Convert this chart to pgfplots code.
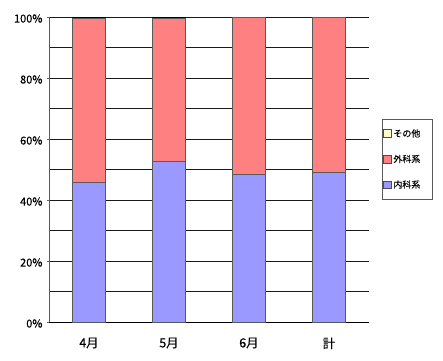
\documentclass[border=0pt]{standalone}
\usepackage{fontspec}
\setmainfont{Noto Sans CJK JP}
\newfontfamily\boldish[FakeBold=0.5]{Noto Sans CJK JP}
\newfontfamily\semibold[FakeBold=0.25]{Noto Sans CJK JP}
\usepackage{pgfplots}
\pgfplotsset{compat=1.18}
\definecolor{naika}{HTML}{9999FF}
\definecolor{geka}{HTML}{FF8080}
\definecolor{sonota}{HTML}{FFFFCC}
\begin{document}
\begin{tikzpicture}[x=1pt,y=1pt]
\path[use as bounding box] (-49,-38) rectangle (394,322);
\begin{axis}[
  at={(0,0)}, anchor=south west,
  scale only axis, width=320pt, height=305pt,
  ybar stacked, bar width=33pt,
  xmin=-0.5, xmax=3.5, ymin=0, ymax=100,
  axis x line*=bottom, axis y line*=left,
  x axis line style={draw=black, line width=1pt, -},
  y axis line style={draw=black!65, line width=1pt, -},
  xtick={0,1,2,3}, xticklabels={4月,5月,6月,計},
  xtick style={draw=none},
  extra x ticks={0.5,1.5,2.5}, extra x tick labels={},
  extra x tick style={tick style={draw=black!60, line width=0.6pt}, major tick length=2pt, tick align=outside},
  ytick={0,20,40,60,80,100},
  minor ytick={10,30,50,70,90},
  ymajorgrids, yminorgrids,
  major grid style={draw=black!90, line width=1pt},
  minor grid style={draw=black!90, line width=1pt},
  ytick style={draw=black!60, line width=0.6pt},
  minor tick length=0pt,
  major tick length=2pt, tick align=outside,
  yticklabel={\pgfmathprintnumber{\tick}\%},
  /pgf/number format/assume math mode=true,
  yticklabel style={font=\semibold\fontsize{11}{12}\selectfont, xshift=-1pt, yshift=-1.5pt},
  xticklabel style={font=\boldish\fontsize{12.5}{13}\selectfont, yshift=-10pt},
  reverse legend,
  legend style={at={(rel axis cs:1.04,0.666)}, anchor=north west,
    draw=black!65, line width=0.8pt,
    font=\semibold\fontsize{9}{9.5}\selectfont,
    inner xsep=1pt, inner ysep=8pt, row sep=12.5pt,
    cells={anchor=west}},
  legend image code/.code={\draw[#1, draw=black!70, line width=0.7pt] (0pt,-3.5pt) rectangle (7.5pt,4pt);},
]
\addplot[fill=naika, draw=black!65, line width=0.7pt] coordinates {(0,45.7) (1,52.7) (2,48.5) (3,49.0)};
\addplot[fill=geka, draw=black!65, line width=0.7pt] coordinates {(0,53.9) (1,46.9) (2,51.5) (3,50.8)};
\addplot[fill=sonota, draw=black, line width=0.7pt] coordinates {(0,0.4) (1,0.4) (2,0.0) (3,0.2)};
\legend{\makebox[36pt][l]{内科系},\makebox[36pt][l]{外科系},\makebox[36pt][l]{その他}}
\end{axis}
\end{tikzpicture}
\end{document}
